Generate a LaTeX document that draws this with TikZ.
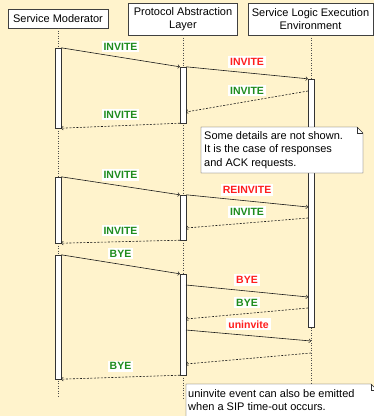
\documentclass[tikz,border=0pt]{standalone}
\usepackage{fontspec}
\setmainfont{Liberation Sans}
\definecolor{bgyellow}{HTML}{FFF3CC}
\definecolor{msggreen}{HTML}{1E8C1E}
\definecolor{msgred}{HTML}{FF1E1E}

\begin{document}
\begin{tikzpicture}[x=1pt, y=-1pt,
        actor/.style={draw=black!75, fill=white, align=center, inner sep=0pt, font=\fontsize{11}{13}\selectfont},
        lifeline/.style={black!70, dash pattern=on 1pt off 1.5pt},
        activation/.style={draw=black!80, fill=white, minimum width=6pt, inner sep=0pt},
        call/.style={->, black!90, line width=0.6pt},
        reply/.style={->, black!90, line width=0.6pt, dash pattern=on 2pt off 1.5pt},
        msg/.style={fill=white, inner xsep=2pt, inner ysep=2pt, above=5pt, midway, font=\fontsize{10.5}{12}\selectfont\bfseries},
        notetext/.style={anchor=north west, inner sep=0pt, align=left, font=\fontsize{11}{13.5}\selectfont}]
        \clip (0,0) rectangle (374,416);
        \fill[bgyellow] (0,0) rectangle (374,416);

        % Actors
        \node[actor, minimum width=100pt, minimum height=19pt] (sm) at (58,18.5) {Service Moderator};
        \node[actor, minimum width=109pt, minimum height=32pt] (pal) at (183,19) {Protocol Abstraction\\Layer};
        \node[actor, minimum width=125pt, minimum height=32pt] (slee) at (310.5,19) {Service Logic Execution\\Environment};

        % Lifelines
        \coordinate (smEnd) at (58,397);
        \coordinate (palEnd) at (183,400);
        \coordinate (sleeEnd) at (311,384);
        \draw[lifeline] (sm.south) -- (smEnd);
        \draw[lifeline] (pal.south) -- (palEnd);
        \draw[lifeline] (slee.south -| sleeEnd) -- (sleeEnd);

        % Activations
        \node[activation, minimum height=80pt] (smA) at (58,88) {};
        \node[activation, minimum height=56pt] (palA) at (183,95) {};
        \node[activation, minimum height=248pt] (sleeA) at (311,203) {};
        \node[activation, minimum height=66pt] (smB) at (58,210) {};
        \node[activation, minimum height=45pt] (palB) at (183,217.5) {};
        \node[activation, minimum height=124pt] (smC) at (58,317) {};
        \node[activation, minimum height=101pt] (palC) at (183,324.5) {};

        % Message ends
        \coordinate (r1) at (308,91);
        \coordinate (l1) at (186,112);
        \coordinate (r2) at (308,207);
        \coordinate (r3) at (308,218);
        \coordinate (l3) at (186,228);
        \coordinate (l4) at (186,285);
        \coordinate (r4) at (308,297);
        \coordinate (r5) at (308,308);
        \coordinate (l5) at (186,319);
        \coordinate (l6) at (186,330);
        \coordinate (r6) at (311,341);
        \coordinate (r7) at (311,353);
        \coordinate (l7) at (186,364);

        % Arrows
        \draw[call] (smA.north east) -- (palA.north west) node[msg, text=msggreen] {INVITE};
        \draw[call] (palA.north east) -- (sleeA.north west) node[msg, text=msgred] {INVITE};
        \draw[reply] (r1) -- (l1) node[msg, text=msggreen] {INVITE};
        \draw[reply] (palA.south west) -- (smA.south east) node[msg, text=msggreen] {INVITE};

        \draw[call] (smB.north east) -- (palB.north west) node[msg, text=msggreen] {INVITE};
        \draw[call] (palB.north east) -- (r2) node[msg, text=msgred] {REINVITE};
        \draw[reply] (r3) -- (l3) node[msg, text=msggreen] {INVITE};
        \draw[reply] (palB.south west) -- (smB.south east) node[msg, text=msggreen] {INVITE};

        \draw[call] (smC.north east) -- (palC.north west) node[msg, text=msggreen] {BYE};
        \draw[call] (l4) -- (r4) node[msg, text=msgred] {BYE};
        \draw[reply] (r5) -- (l5) node[msg, text=msggreen] {BYE};
        \draw[call] (l6) -- (r6) node[msg, text=msgred] {uninvite};
        \draw[reply] (r7) -- (l7);
        \draw[reply] (palC.south west) -- (smC.south east) node[msg, text=msggreen] {BYE};

        % Notes
        \draw[black!80, fill=white] (201,127) -- (357,127) -- (363,133) -- (363,173) -- (201,173) -- cycle;
        \draw[black!80] (357,127) -- (357,133) -- (363,133);
        \node[notetext] (note1) at (204,131) {Some details are not shown.\\It is the case of responses\\and ACK requests.};

        \draw[black!80, fill=white] (186,384) -- (371,384) -- (377,390) -- (377,420) -- (186,420) -- cycle;
        \draw[black!80] (371,384) -- (371,390) -- (377,390);
        \node[notetext] (note2) at (188,389) {uninvite event can also be emitted\\when a SIP time-out occurs.};
\end{tikzpicture}
\end{document}
